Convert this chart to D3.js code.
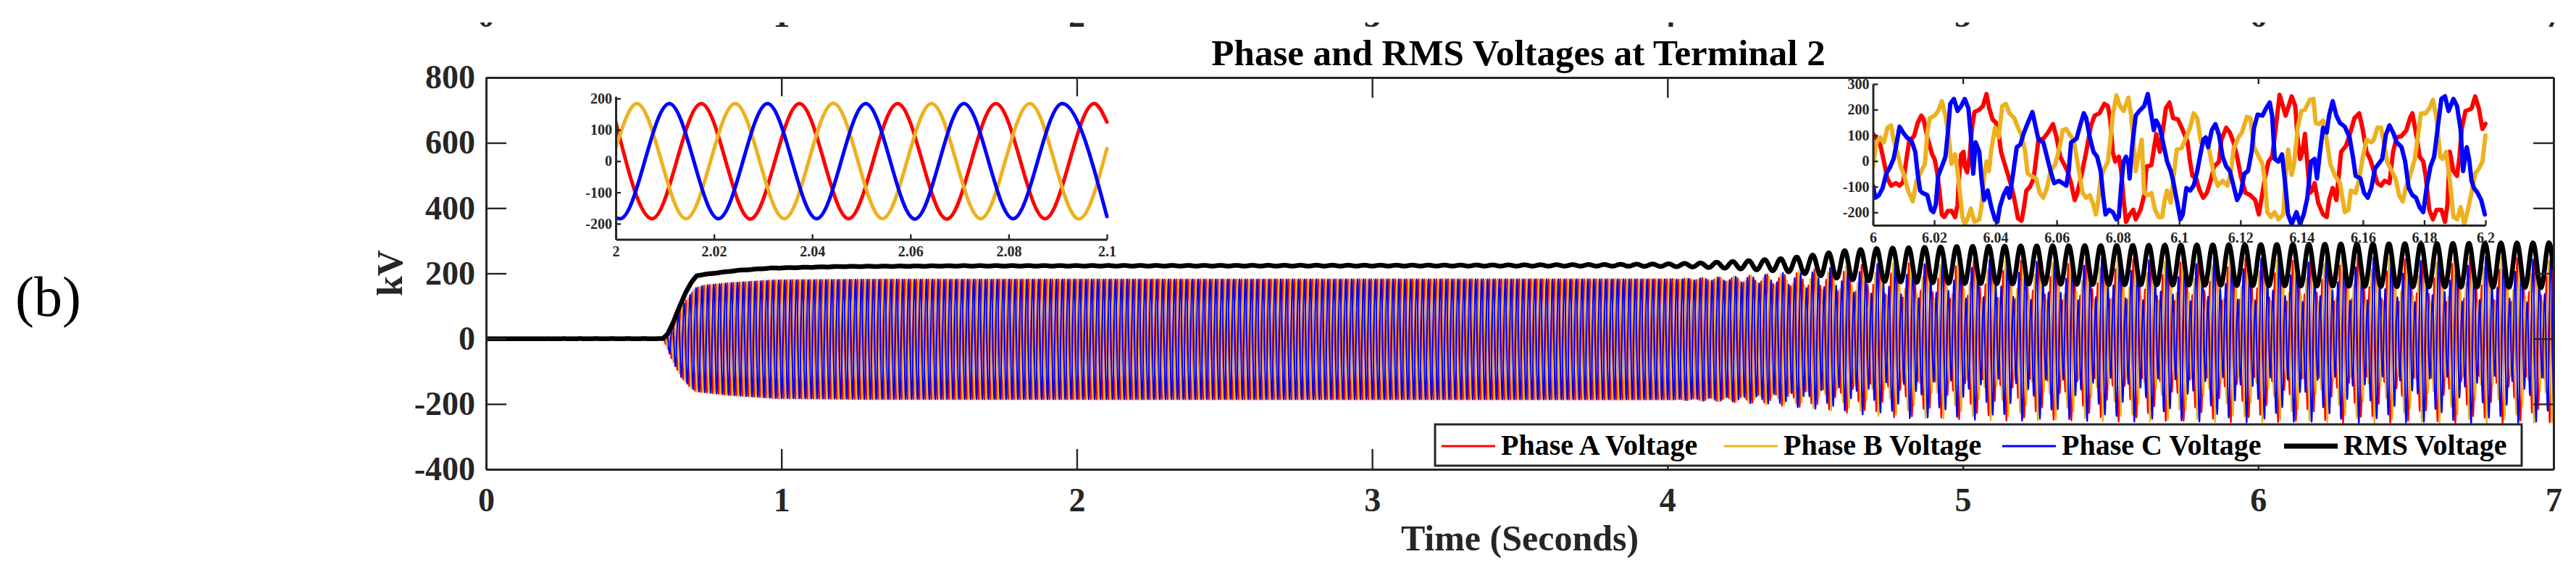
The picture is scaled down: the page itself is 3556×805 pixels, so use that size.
<!DOCTYPE html>
<html>
<head>
<meta charset="utf-8">
<script src="https://cdn.jsdelivr.net/npm/d3@7"></script>
<style>
  body { margin: 0; background: #fff; }
  svg { display: block; }
</style>
</head>
<body>
<svg id="chart" width="3556" height="805"></svg>
<script>
// ---- data ----
const seriesNames = ["Phase A Voltage", "Phase B Voltage", "Phase C Voltage", "RMS Voltage"];

const mainXTicks = [0, 1, 2, 3, 4, 5, 6, 7];
const mainYTicks = [-400, -200, 0, 200, 400, 600, 800];
const inset1XTicks = [2, 2.02, 2.04, 2.06, 2.08, 2.1];
const inset1YTicks = [-200, -100, 0, 100, 200];
const inset2XTicks = [6, 6.02, 6.04, 6.06, 6.08, 6.1, 6.12, 6.14, 6.16, 6.18, 6.2];
const inset2YTicks = [-200, -100, 0, 100, 200, 300];

// phase voltage envelope (kV) over time (s)
const envTime  = [0, 0.600, 0.630, 0.660, 0.690, 0.710, 0.740, 0.820, 0.980, 1.300, 4.200, 7.000];
const envUpper = [0, 0, 45, 95, 134, 156, 164, 171, 180, 182, 183, 185];
const envLower = [0, 0, 66, 118, 148, 162, 165, 173, 183, 186, 187, 188];
const gridHz = 50;
const phaseAPeak = 0.0174;          // a crest of phase A (s, mod 0.02)
// sub-synchronous component that appears after ~4 s
const subTime = [0, 4.00, 4.20, 4.35, 4.50, 4.65, 4.80, 5.20, 6.00, 7.00];
const subAmp  = [0, 0, 7, 16, 30, 45, 58, 65, 70, 74];
const subHz = 31.55;

// RMS voltage
const rmsTime = [0, 0.598, 0.615, 0.635, 0.655, 0.676, 0.695, 0.713, 0.740, 0.850, 0.960, 1.200, 1.600, 3.400, 4.400, 4.600, 7.000];
const rmsMean = [0, 0, 15, 53, 98, 142, 172, 193, 197, 209, 216, 221, 223, 224, 226, 226, 225];
const swingTime = [0, 3.30, 3.80, 4.00, 4.10, 4.25, 4.40, 4.50, 4.60, 4.70, 5.00, 6.00, 7.00];
const swingAmp  = [0, 1.5, 2.5, 4, 6, 12, 20, 31, 44, 50, 57, 63, 69];
const rmsOscHz = 18.45;
const rmsCrest = 4.5455;

// inset 1 (2.0 - 2.1 s): crests and troughs [s, kV]
const inset1A = [[2.0,126],[2.0074,-184],[2.0174,184],[2.0274,-185],[2.0374,184],[2.0474,-184],[2.0574,184],[2.0674,-185],[2.0774,184],[2.0874,-184],[2.0974,184],[2.1,125]];
const inset1B = [[2.0,42],[2.0043,184],[2.0143,-184],[2.0243,184],[2.0343,-184],[2.0443,185],[2.0543,-184],[2.0643,184],[2.0743,-184],[2.0843,184],[2.0943,-185],[2.1,40]];
const inset1C = [[2.0,-181],[2.0009,-184],[2.0109,184],[2.0209,-184],[2.0309,184],[2.0409,-184],[2.0509,184],[2.0609,-185],[2.0709,184],[2.0809,-184],[2.0909,184],[2.1,-177]];

// inset 2 (6.0 - 6.2 s): traced points [ms after 6 s, kV]
const inset2A = [[0,106],[2.37,64],[3.55,0],[4.73,-68],[5.92,-96],[7.5,-86],[8.68,-96],[9.86,-82],[11.05,17],[11.84,78],[13.41,97],[14.6,148],[15.78,177],[16.57,162],[17.75,92],[19.33,26],[20.12,8],[20.91,-39],[21.7,-115],[22.49,-208],[23.28,-218],[24.46,-194],[25.64,-194],[26.83,-218],[27.62,-171],[28.01,-77],[28.8,26],[29.59,36],[29.98,-20],[30.77,-44],[31.56,17],[32.35,130],[33.14,191],[34.72,200],[35.9,214],[37.08,261],[37.87,209],[39.06,162],[40.24,148],[41.03,111],[41.82,36],[43.0,-11],[44.18,-58],[45.37,-105],[46.55,-171],[47.34,-223],[48.52,-232],[49.31,-180],[50.1,-115],[51.29,-100],[52.47,-68],[53.26,8],[54.05,83],[55.62,87],[57.2,111],[58.78,144],[59.96,92],[61.15,17],[62.33,-11],[63.51,-39],[64.7,-86],[65.88,-152],[66.6,-130],[68.05,-58],[69.63,36],[71.21,139],[72.39,177],[73.97,186],[75.54,223],[76.73,214],[77.52,157],[78.3,36],[79.09,-2],[80.28,17],[81.06,-39],[81.85,-152],[82.64,-237],[83.82,-208],[85.01,-190],[85.8,-227],[87.37,-190],[88.56,-133],[89.34,-21],[90.92,-16],[92.5,105],[93.68,36],[95.65,205],[96.83,228],[98.02,167],[99.59,162],[101.17,120],[102.75,73],[103.54,-2],[104.33,-58],[105.51,-68],[106.69,-115],[107.87,-143],[109.06,-124],[110.24,-77],[111.42,-21],[113.0,-2],[113.79,83],[115.36,130],[116.55,111],[117.73,73],[118.91,17],[120.1,-58],[121.67,-124],[123.25,-133],[124.83,-152],[126.01,-208],[127.19,-124],[127.98,-68],[129.16,-2],[130.35,17],[131.53,130],[132.78,258],[134.75,177],[136.72,252],[137.9,214],[138.69,83],[139.48,8],[140.27,36],[141.06,106],[141.85,-11],[142.63,-124],[143.42,-115],[144.21,-86],[145.39,-162],[146.97,-208],[148.15,-218],[148.94,-152],[150.12,-105],[151.31,-152],[152.1,-58],[152.88,36],[154.46,59],[155.64,101],[157.22,167],[158.8,186],[159.98,120],[161.16,36],[162.35,8],[163.53,-39],[164.71,-86],[165.89,-96],[167.08,-77],[168.65,-86],[169.84,36],[171.02,92],[172.6,97],[174.17,120],[175.36,167],[176.14,186],[177.72,83],[178.51,17],[179.69,-2],[180.48,-58],[181.66,-190],[182.85,-227],[184.03,-190],[185.61,-190],[186.79,-237],[187.58,-171],[188.37,36],[189.55,-39],[190.73,-58],[191.52,17],[192.31,130],[193.49,195],[194.67,200],[195.46,205],[196.65,252],[197.83,205],[199.01,125],[200,145]];
const inset2B = [[0,-21],[1.18,73],[2.37,92],[3.55,73],[4.73,130],[5.92,139],[6.71,83],[7.89,36],[9.07,-21],[10.26,-58],[11.44,-115],[13.02,-157],[14.2,-77],[15.39,-49],[16.96,-11],[17.75,111],[18.54,167],[20.12,177],[21.3,195],[22.49,233],[23.67,177],[24.85,83],[25.64,-11],[26.83,26],[27.62,-39],[28.4,-124],[29.19,-218],[29.98,-246],[30.77,-227],[31.95,-185],[33.14,-237],[34.72,-227],[35.51,-171],[36.29,-58],[37.08,-2],[37.87,-39],[38.66,45],[39.84,130],[41.03,92],[42.21,214],[43.4,223],[44.58,186],[46.16,167],[47.34,130],[48.52,101],[49.71,36],[50.5,-49],[51.68,-58],[53.26,-68],[54.44,-124],[55.62,-143],[56.81,-105],[57.99,-39],[59.57,-11],[61.15,64],[61.94,120],[63.12,125],[64.3,101],[65.5,85],[66.08,45],[67.27,-39],[68.45,-124],[69.63,-143],[70.81,-133],[72.0,-171],[72.79,-208],[73.57,-152],[74.36,-68],[75.54,-30],[76.73,-2],[77.52,83],[78.3,177],[79.49,256],[80.67,214],[81.85,195],[83.43,247],[84.22,186],[85.01,83],[85.8,-39],[86.98,36],[87.77,83],[88.56,-124],[89.74,-133],[90.92,-124],[92.1,-190],[93.29,-218],[94.47,-218],[95.26,-152],[96.05,-115],[97.23,-162],[98.02,-77],[99.2,45],[100.78,50],[101.96,83],[103.54,130],[104.72,186],[105.9,167],[107.08,73],[108.27,68],[109.06,83],[110.24,17],[111.42,-58],[112.6,-96],[114.18,-77],[115.76,-96],[116.94,-39],[117.73,45],[119.31,92],[120.49,111],[122.07,172],[123.25,167],[124.43,54],[125.61,26],[127.19,-11],[127.98,-77],[128.77,-199],[129.95,-218],[131.13,-199],[132.38,-227],[133.96,-208],[134.75,-58],[135.54,45],[136.72,-54],[137.51,-11],[138.69,130],[139.87,195],[141.06,200],[142.63,238],[143.82,242],[144.6,148],[145.79,144],[146.97,158],[148.15,83],[149.34,-11],[150.91,-58],[152.49,-86],[154.07,-199],[155.25,-190],[156.04,-115],[157.61,-124],[158.8,-68],[159.98,17],[161.16,83],[162.74,73],[163.53,83],[164.71,130],[165.89,130],[166.68,83],[167.87,-2],[169.05,-30],[170.63,-68],[171.81,-133],[172.99,-157],[174.17,-96],[175.36,-58],[176.93,8],[178.12,111],[178.9,186],[180.48,186],[181.66,205],[182.85,238],[184.03,167],[185.21,17],[186.0,8],[187.18,36],[188.37,-77],[189.55,-218],[190.73,-227],[191.91,-180],[193.1,-246],[194.28,-190],[195.46,-124],[196.65,-49],[197.83,-30],[199.01,-2],[200,100]];
const inset2C = [[0,-96],[0.79,-143],[1.97,-133],[3.16,-105],[4.34,-49],[5.52,-25],[6.71,8],[7.5,54],[8.68,134],[9.86,111],[11.05,92],[12.62,78],[13.81,36],[14.6,-49],[15.39,-115],[16.17,-124],[17.75,-133],[18.94,-190],[19.73,-199],[20.51,-171],[21.3,-58],[22.49,-21],[23.67,17],[24.46,111],[25.25,223],[26.43,242],[27.62,195],[28.8,214],[29.98,242],[31.17,205],[31.95,101],[32.74,-49],[33.53,73],[34.72,36],[35.51,-77],[36.29,-152],[37.48,-115],[38.66,-180],[39.84,-227],[40.63,-237],[41.42,-180],[42.61,-133],[43.79,-105],[44.58,-143],[45.76,-49],[46.95,54],[48.13,64],[49.31,111],[50.89,158],[52.07,191],[52.86,148],[54.05,83],[55.62,73],[56.81,17],[57.99,-39],[59.18,-86],[60.75,-77],[61.94,-86],[63.12,-96],[63.91,-39],[64.7,73],[66.48,87],[67.66,139],[68.84,186],[69.63,167],[70.81,92],[72.0,36],[73.18,17],[74.36,-39],[75.15,-133],[75.94,-208],[77.12,-190],[78.3,-199],[79.49,-227],[80.28,-218],[81.06,-96],[81.85,-2],[82.64,17],[83.43,-11],[83.82,-68],[84.61,54],[85.8,177],[86.98,195],[88.56,214],[89.74,261],[90.53,205],[91.71,120],[92.5,158],[93.68,130],[94.86,64],[96.05,-2],[97.23,-39],[98.02,-77],[99.2,-152],[100.38,-227],[101.17,-208],[102.35,-105],[103.54,-115],[104.72,-96],[105.9,-39],[107.08,36],[107.87,83],[108.66,92],[109.45,54],[110.63,120],[111.82,144],[113.0,101],[114.18,17],[115.36,-21],[116.55,-39],[117.73,-96],[118.91,-152],[120.1,-124],[121.28,-49],[122.46,-39],[123.64,36],[124.43,130],[125.61,181],[127.19,177],[128.37,205],[129.56,228],[130.35,177],[131.2,8],[132.38,-2],[133.57,26],[134.75,-105],[135.54,-208],[136.72,-246],[138.3,-199],[139.48,-246],[140.66,-208],[141.85,-143],[143.03,-2],[144.21,8],[145.0,-68],[145.79,17],[146.97,130],[148.15,111],[148.94,177],[150.12,233],[151.31,177],[152.49,148],[154.07,134],[155.64,92],[156.83,8],[157.61,-58],[159.19,-68],[160.37,-124],[161.56,-143],[162.74,-105],[163.92,-30],[165.11,-11],[166.29,8],[167.47,101],[168.65,139],[169.84,111],[171.02,73],[172.6,54],[173.78,-2],[174.96,-105],[176.14,-133],[177.33,-143],[178.51,-180],[179.69,-199],[180.88,-96],[182.06,-21],[183.24,17],[184.42,130],[185.61,242],[186.79,252],[187.97,195],[189.55,242],[190.73,214],[191.91,120],[192.7,-39],[193.88,54],[194.67,8],[195.46,-77],[196.25,-105],[197.43,-124],[198.62,-152],[199.8,-208]];

// ---- styles ----
const colors = ["#ff0000", "#edb120", "#0000ff", "#000000"];
const axisColor = "#262626";
const serif = '"Liberation Serif", "Times New Roman", Times, serif';

const svg = d3.select("#chart");

// main axes
const x = d3.scaleLinear().domain([0, 7]).range([671, 3525]);
const y = d3.scaleLinear().domain([-400, 800]).range([648, 107]);

function styleAxis(g, size, width) {
    g.attr("font-family", serif).attr("font-size", size).attr("font-weight", "bold");
    g.select(".domain").attr("stroke", axisColor).attr("stroke-width", width);
    g.selectAll(".tick line").attr("stroke", axisColor).attr("stroke-width", width * 0.8);
    g.selectAll(".tick text").attr("fill", axisColor);
}
let fmt = d => String(+d.toFixed(2));

// remains of the previous panel's tick labels at the very top
svg.append("clipPath").attr("id", "topcut")
    .append("rect").attr("x", 0).attr("y", 31).attr("width", 3556).attr("height", 10);
svg.append("g").attr("clip-path", "url(#topcut)")
    .selectAll("text").data(mainXTicks).enter().append("text")
    .attr("x", d => x(d)).attr("y", 37)
    .attr("text-anchor", "middle")
    .attr("font-family", serif).attr("font-size", 46).attr("font-weight", "bold")
    .attr("fill", axisColor)
    .text(d => d);

// panel tag
svg.append("text").attr("x", 21).attr("y", 436)
    .attr("font-family", serif).attr("font-size", 78).attr("fill", "#000")
    .text("(b)");

// title and labels
svg.append("text").attr("x", 2096).attr("y", 90).attr("text-anchor", "middle")
    .attr("font-family", serif).attr("font-size", 51).attr("font-weight", "bold")
    .attr("fill", "#000").text("Phase and RMS Voltages at Terminal 2");
svg.append("text").attr("x", 2098).attr("y", 760).attr("text-anchor", "middle")
    .attr("font-family", serif).attr("font-size", 50).attr("font-weight", "bold")
    .attr("fill", axisColor).text("Time (Seconds)");
svg.append("text").attr("transform", "translate(555,377) rotate(-90)").attr("text-anchor", "middle")
    .attr("font-family", serif).attr("font-size", 50).attr("font-weight", "bold")
    .attr("fill", axisColor).text("kV");

// ---- main traces ----
svg.append("clipPath").attr("id", "plotclip")
    .append("rect").attr("x", 671).attr("y", 107).attr("width", 3525 - 671).attr("height", 648 - 107);

let upper = d3.scaleLinear().domain(envTime).range(envUpper).clamp(true);
let lower = d3.scaleLinear().domain(envTime).range(envLower).clamp(true);
let subEnv = d3.scaleLinear().domain(subTime).range(subAmp).clamp(true);
let rmsLevel = d3.scaleLinear().domain(rmsTime).range(rmsMean).clamp(true);
let rmsSwing = d3.scaleLinear().domain(swingTime).range(swingAmp).clamp(true);

let times = d3.range(0, 7.00001, 0.0005);
let phaseData = [0, 1, 2].map(function(k) {
    let shift = -k * 2 * Math.PI / 3;
    return times.map(function(t) {
        let c = Math.cos(2 * Math.PI * gridHz * (t - phaseAPeak) + shift);
        let v = c >= 0 ? upper(t) * c : lower(t) * c;
        v += subEnv(t) * Math.cos(2 * Math.PI * subHz * t + 0.7 + shift);
        return [t, v];
    });
});
let rmsData = d3.range(0, 7.00001, 0.002).map(function(t) {
    return [t, rmsLevel(t) + rmsSwing(t) * Math.cos(2 * Math.PI * rmsOscHz * (t - rmsCrest))];
});

let line = d3.line().x(d => x(d[0])).y(d => y(d[1]));
let traces = svg.append("g").attr("clip-path", "url(#plotclip)");
phaseData.forEach(function(d, i) {
    traces.append("path").datum(d)
        .attr("fill", "none").attr("stroke", colors[i])
        .attr("stroke-width", 2).attr("stroke-linejoin", "round")
        .attr("d", line);
});
traces.append("path").datum(rmsData)
    .attr("fill", "none").attr("stroke", colors[3])
    .attr("stroke-width", 6.5).attr("stroke-linejoin", "round")
    .attr("d", line);

// box axes with inward ticks
let gx = svg.append("g").attr("transform", "translate(0,648)")
    .call(d3.axisBottom(x).tickValues(mainXTicks).tickFormat(d => d).tickSizeInner(-28).tickSizeOuter(0).tickPadding(25));
styleAxis(gx, 46, 3);
let gxt = svg.append("g").attr("transform", "translate(0,107)")
    .call(d3.axisTop(x).tickValues(mainXTicks).tickFormat("").tickSizeInner(-28).tickSizeOuter(0));
styleAxis(gxt, 46, 3);
let gy = svg.append("g").attr("transform", "translate(671,0)")
    .call(d3.axisLeft(y).tickValues(mainYTicks).tickFormat(d => String(d)).tickSizeInner(-28).tickSizeOuter(0).tickPadding(15));
styleAxis(gy, 46, 3);
let gyr = svg.append("g").attr("transform", "translate(3525,0)")
    .call(d3.axisRight(y).tickValues(mainYTicks).tickFormat("").tickSizeInner(-28).tickSizeOuter(0));
styleAxis(gyr, 46, 3);

// ---- insets ----
function drawInset(opt) {
    let ix = d3.scaleLinear().domain(opt.xDomain).range([opt.left, opt.right]);
    let iy = d3.scaleLinear().domain(opt.yDomain).range([opt.bottom, opt.top]);
    let g = svg.append("g");
    g.append("rect").attr("x", opt.left).attr("y", opt.top)
        .attr("width", opt.right - opt.left).attr("height", opt.bottom - opt.top)
        .attr("fill", "#fff");
    let clipId = "clip-" + opt.name;
    g.append("clipPath").attr("id", clipId).append("rect")
        .attr("x", opt.left).attr("y", opt.top - 6)
        .attr("width", opt.right - opt.left + 6).attr("height", opt.bottom - opt.top + 6);
    let l = d3.line().x(d => ix(opt.toTime(d[0]))).y(d => iy(d[1])).curve(opt.curve);
    let lines = g.append("g").attr("clip-path", "url(#" + clipId + ")");
    opt.series.forEach(function(s, i) {
        lines.append("path").datum(s)
            .attr("fill", "none").attr("stroke", colors[i])
            .attr("stroke-width", opt.width).attr("stroke-linejoin", "round").attr("stroke-linecap", "round")
            .attr("d", l);
    });
    let ax = g.append("g").attr("transform", "translate(0," + opt.bottom + ")")
        .call(d3.axisBottom(ix).tickValues(opt.xTicks).tickFormat(fmt).tickSizeInner(-7).tickSizeOuter(0).tickPadding(opt.xPad));
    styleAxis(ax, 20, 3);
    let ay = g.append("g").attr("transform", "translate(" + opt.left + ",0)")
        .call(d3.axisLeft(iy).tickValues(opt.yTicks).tickFormat(d => String(d)).tickSizeInner(-7).tickSizeOuter(0).tickPadding(5));
    styleAxis(ay, 20, 3);
}

drawInset({
    name: "a", left: 850, right: 1528, top: 133, bottom: 330.5,
    xDomain: [2, 2.1], yDomain: [-250, 207],
    xTicks: inset1XTicks, yTicks: inset1YTicks, xPad: 9,
    series: [inset1A, inset1B, inset1C], toTime: d => d,
    curve: d3.curveMonotoneX, width: 5
});
drawInset({
    name: "b", left: 2585.5, right: 3431, top: 116, bottom: 311,
    xDomain: [6, 6.2], yDomain: [-250, 300],
    xTicks: inset2XTicks, yTicks: inset2YTicks, xPad: 10,
    series: [inset2A, inset2B, inset2C], toTime: d => 6 + d / 1000,
    curve: d3.curveLinear, width: 6
});

// ---- legend ----
let legend = svg.append("g");
legend.append("rect").attr("x", 1981).attr("y", 586).attr("width", 1500).attr("height", 57)
    .attr("fill", "#fff").attr("stroke", axisColor).attr("stroke-width", 3);
const legendLineX = [1990, 2380, 2764, 3153];
const legendWidths = [3, 3, 3, 7];
seriesNames.forEach(function(name, i) {
    legend.append("line")
        .attr("x1", legendLineX[i]).attr("x2", legendLineX[i] + 74)
        .attr("y1", 616).attr("y2", 616)
        .attr("stroke", colors[i]).attr("stroke-width", legendWidths[i]);
    legend.append("text")
        .attr("x", legendLineX[i] + 82).attr("y", 628)
        .attr("font-family", serif).attr("font-size", 40).attr("font-weight", "bold")
        .attr("fill", "#000").text(name);
});
</script>
</body>
</html>
